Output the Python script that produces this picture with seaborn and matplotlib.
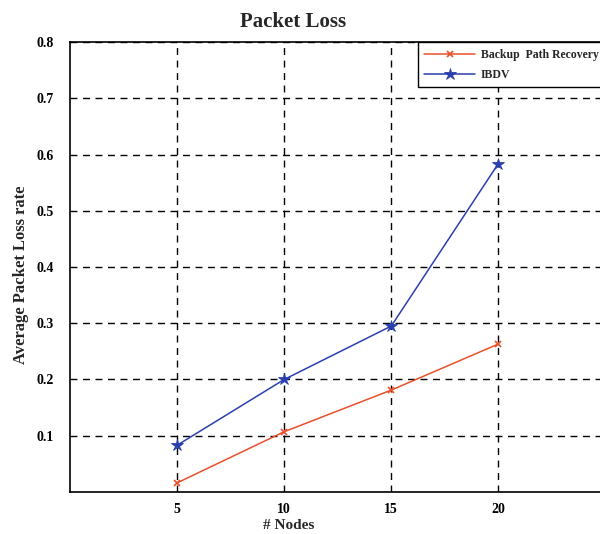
import pandas as pd
import matplotlib.pyplot as plt
import seaborn as sns

# values
nodes = [5, 10, 15, 20]
backup_path = [0.016, 0.107, 0.181, 0.263]
ibdv = [0.083, 0.200, 0.295, 0.584]
series_names = ["Backup  Path Recovery", "IBDV"]
y_ticks = [0.1, 0.2, 0.3, 0.4, 0.5, 0.6, 0.7, 0.8]

sns.set_style("white")
plt.rcParams["font.family"] = ["Liberation Serif", "DejaVu Serif"]
plt.rcParams["font.weight"] = "bold"

fig = plt.figure(figsize=(6, 5.34), dpi=100)
ax = fig.add_axes([0.117, 0.079, 0.892, 0.842])

red = "#e8502a"
blue = "#2a3fae"
# markers differ in kind (line art vs filled), so draw the series one by one
sns.lineplot(x=nodes, y=backup_path, color=red, marker="x", markersize=5,
             markeredgewidth=1.2, markeredgecolor=red, linewidth=1.1,
             label=series_names[0], ax=ax)
sns.lineplot(x=nodes, y=ibdv, color=blue, marker="*", markersize=9,
             markeredgewidth=0.6, markeredgecolor=blue, linewidth=1.1,
             label=series_names[1], ax=ax)

ax.set_xlim(0, 25)
ax.set_ylim(0, 0.8)
ax.set_xticks(nodes)
ax.set_yticks(y_ticks)
ax.set_yticklabels([f"{t:.1f}" for t in y_ticks])
ax.tick_params(direction="in", length=4, labelsize=10, colors="black")
ax.tick_params(axis="y", pad=12)
ax.tick_params(axis="x", pad=8)
for lbl in ax.get_xticklabels() + ax.get_yticklabels():
    lbl.set_fontweight("bold")
ax.set_axisbelow(True)
ax.grid(True, color="black", linestyle=(0, (5, 4)), linewidth=1.0)
for sp in ax.spines.values():
    sp.set_color("black")
    sp.set_linewidth(1.2)

fig.text(293 / 600, 1 - 22 / 534, "Packet Loss", fontsize=15, fontweight="bold",
         ha="center", va="center")
ax.set_xlabel("# Nodes", fontsize=11, fontweight="bold")
ax.xaxis.set_label_coords((288 - 70) / 535, -(519 - 492) / 449.5)
ax.set_ylabel("Average Packet Loss rate", fontsize=12, fontweight="bold")
ax.yaxis.set_label_coords(-(70 - 29) / 535, (492 - 275) / 449.5)

leg = ax.legend(loc="upper right", fontsize=8.5, frameon=True, fancybox=False,
                borderaxespad=0, handlelength=4.3, handletextpad=0.5,
                borderpad=0.55, labelspacing=0.7)
leg.get_frame().set_edgecolor("black")
leg.get_frame().set_linewidth(1.0)
leg.get_frame().set_alpha(1.0)
for t in leg.get_texts():
    t.set_fontweight("bold")

fig.savefig("out.png", dpi=100)
